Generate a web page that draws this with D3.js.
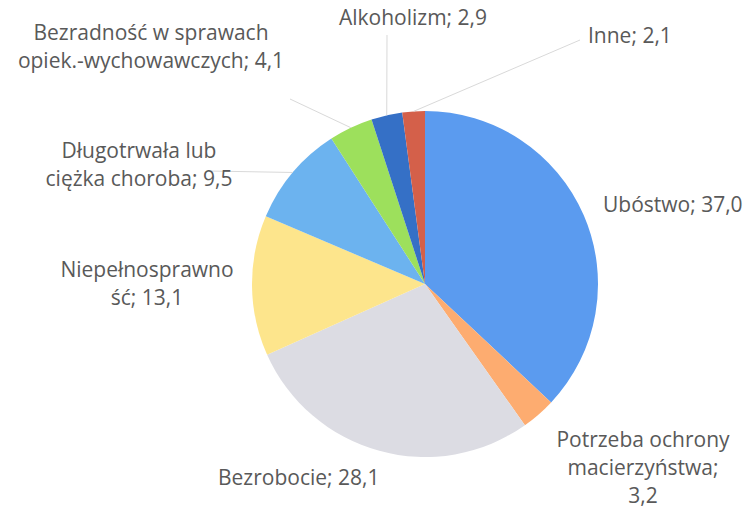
<!DOCTYPE html>
<html lang="pl">
<head>
<meta charset="UTF-8">
<title>Przyczyny korzystania z pomocy społecznej</title>
<style>
    body { margin: 0; background: #fff; }
    #chart text { font-family: "Open Sans", Lato, sans-serif; font-size: 21px; fill: #595959; }
</style>
</head>
<body>
<div id="chart"></div>
<script src="https://d3js.org/d3.v7.min.js"></script>
<script>
    // data (percent)
    const categories = ["Ubóstwo", "Potrzeba ochrony macierzyństwa", "Bezrobocie", "Niepełnosprawność",
        "Długotrwała lub ciężka choroba", "Bezradność w sprawach opiek.-wychowawczych", "Alkoholizm", "Inne"];
    const values = [37.0, 3.2, 28.1, 13.1, 9.5, 4.1, 2.9, 2.1];
    const colors = ["#5b9bef", "#fdac70", "#dcdce3", "#fde58c", "#6cb3ef", "#9de05c", "#3570c6", "#d4604a"];
    // label text lines as printed on the chart
    const labelLines = [
        ["Ubóstwo; 37,0"],
        ["Potrzeba ochrony", "macierzyństwa;", "3,2"],
        ["Bezrobocie; 28,1"],
        ["Niepełnosprawno", "ść; 13,1"],
        ["Długotrwała lub", "ciężka choroba; 9,5"],
        ["Bezradność w sprawach", "opiek.-wychowawczych; 4,1"],
        ["Alkoholizm; 2,9"],
        ["Inne; 2,1"]
    ];

    const width = 751, height = 511;
    const cx = 425, cy = 284, radius = 173;
    const lineH = 28;

    // label layout: anchor x, first baseline y, text-anchor, leader end (or null)
    const layout = [
        {x: 603, y: 212, anchor: "start", leader: null},
        {x: 643, y: 447, anchor: "middle", leader: null},
        {x: 218, y: 485, anchor: "start", leader: null},
        {x: 147, y: 277, anchor: "middle", leader: null},
        {x: 139, y: 158, anchor: "middle", leader: [208, 171]},
        {x: 151, y: 40, anchor: "middle", leader: [290, 99]},
        {x: 413, y: 25, anchor: "middle", leader: [387, 35]},
        {x: 588, y: 43, anchor: "start", leader: [580, 40]}
    ];

    const data = categories.map((c, i) => ({name: c, value: values[i], color: colors[i], lines: labelLines[i], pos: layout[i]}));

    const svg = d3.select("#chart").append("svg")
        .attr("width", width)
        .attr("height", height);

    const g = svg.append("g").attr("transform", "translate(" + cx + "," + cy + ")");

    const pie = d3.pie().value(d => d.value).sort(null);
    const arc = d3.arc().innerRadius(0).outerRadius(radius);
    const edge = d3.arc().innerRadius(radius).outerRadius(radius);

    const arcs = pie(data);

    g.selectAll("path.slice")
        .data(arcs)
        .enter().append("path")
        .attr("class", "slice")
        .attr("d", arc)
        .attr("fill", d => d.data.color);

    // leader lines from slice edge to label
    svg.selectAll("line.leader")
        .data(arcs.filter(d => d.data.pos.leader))
        .enter().append("line")
        .attr("class", "leader")
        .attr("x1", d => cx + edge.centroid(d)[0])
        .attr("y1", d => cy + edge.centroid(d)[1])
        .attr("x2", d => d.data.pos.leader[0])
        .attr("y2", d => d.data.pos.leader[1])
        .attr("stroke", "#d9d9d9")
        .attr("stroke-width", 1);

    const labels = svg.selectAll("text.label")
        .data(data)
        .enter().append("text")
        .attr("class", "label")
        .attr("text-anchor", d => d.pos.anchor);

    labels.selectAll("tspan")
        .data(d => d.lines.map((t, i) => ({t: t, i: i, pos: d.pos})))
        .enter().append("tspan")
        .attr("x", d => d.pos.x)
        .attr("y", d => d.pos.y + d.i * lineH)
        .text(d => d.t);
</script>
</body>
</html>
